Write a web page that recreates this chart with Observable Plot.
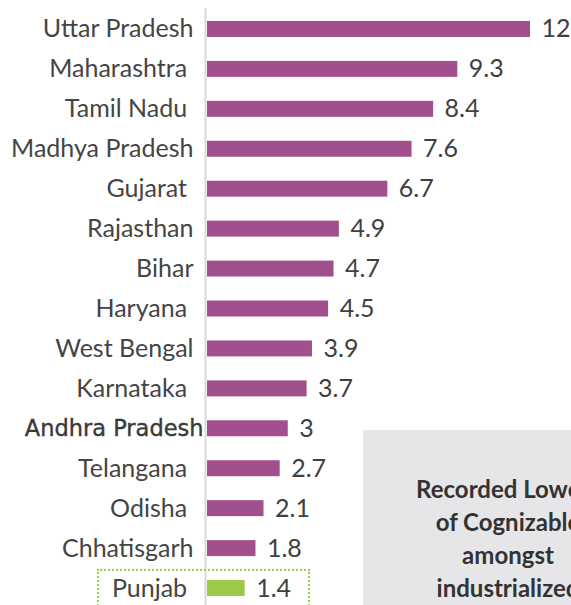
<!DOCTYPE html>
<html>
<head>
<meta charset="utf-8">
<script src="https://cdn.jsdelivr.net/npm/d3@7"></script>
<script src="https://cdn.jsdelivr.net/npm/@observablehq/plot@0.6"></script>
<style>
  html, body { margin: 0; padding: 0; background: #fff; width: 571px; height: 605px; overflow: hidden; }
  #wrap { position: relative; width: 571px; height: 605px; overflow: hidden; font-family: Lato, sans-serif; }
  #note { position: absolute; left: 363px; top: 430px; width: 290px; height: 220px; background: #e6e6e8;
          text-align: center; font-weight: 700; font-size: 24px; color: #333; line-height: 33px; box-sizing: border-box; padding-top: 42px; white-space: nowrap; }
  #hl { position: absolute; left: 97px; top: 569px; width: 213px; height: 60px; border: 2px dotted #92d050; box-sizing: border-box; }
</style>
</head>
<body>
<div id="wrap">
  <div id="chart"></div>
  <div id="hl"></div>
  <div id="note">Recorded Lowest<br>of Cognizable<br>amongst<br>industrialized<br>states</div>
</div>
<script>
const states = ["Uttar Pradesh","Maharashtra","Tamil Nadu","Madhya Pradesh","Gujarat","Rajasthan","Bihar","Haryana","West Bengal","Karnataka","Andhra Pradesh","Telangana","Odisha","Chhatisgarh","Punjab"];
const values = [12, 9.3, 8.4, 7.6, 6.7, 4.9, 4.7, 4.5, 3.9, 3.7, 3, 2.7, 2.1, 1.8, 1.4];
const highlight = "Punjab";
const trailingSpace = ["Maharashtra","Gujarat","Haryana","Karnataka","Telangana","Odisha","Punjab","Tamil Nadu"];

const data = states.map((s, i) => ({state: s, value: values[i]}));

const chart = Plot.plot({
  width: 571,
  height: 617,
  marginLeft: 207,
  marginRight: 41,
  marginTop: 0,
  marginBottom: 0,
  style: {fontFamily: "Lato, sans-serif", fontSize: "25px", color: "#404040", background: "transparent"},
  x: {domain: [0, 12], axis: null},
  y: {domain: states, paddingInner: 0.6, paddingOuter: 0.525, round: false, axis: null, label: null},
  marks: [
    Plot.ruleX([0], {stroke: "#d9d9d9", strokeWidth: 2, dx: -2, insetTop: 8}),
    Plot.barX(data, {x: "value", y: "state", fill: d => d.state === highlight ? "#9dc84a" : "#a24f8e"}),
    Plot.text(data, {x: "value", y: "state", text: d => String(d.value), textAnchor: "start", dx: 11, fill: "#404040", fontSize: 25}),
    Plot.axisY({tickSize: 0, tickPadding: 14, fontSize: 25, fill: "#454545", label: null,
      tickFormat: d => trailingSpace.includes(d) ? d + "\u00a0" : d})
  ]
});
document.getElementById("chart").appendChild(chart);
// Andhra Pradesh label uses a different typeface in the original
d3.select(chart).selectAll("text").each(function() {
  const t = d3.select(this);
  if (t.text() === "Andhra Pradesh") {
    t.attr("font-family", "'DejaVu Sans', sans-serif").attr("font-size", 22.5).attr("font-weight", "normal")
     .attr("stroke", "#3a3a3a").attr("stroke-width", 0.4).attr("dx", 10).attr("fill", "#3a3a3a");
  }
});
</script>
</body>
</html>
